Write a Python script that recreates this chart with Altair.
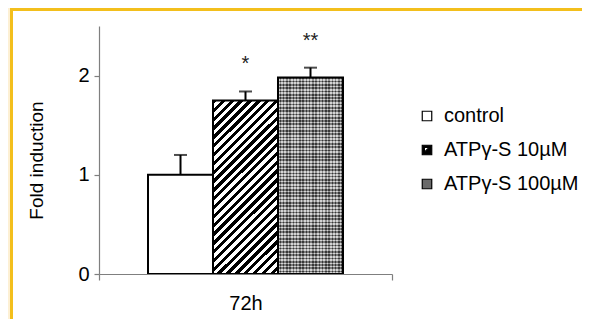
import altair as alt
import pandas as pd

# ---- data ----
treatments = ["control", "ATPγ-S 10µM", "ATPγ-S 100µM"]
fold = [1.0, 1.75, 1.98]
err = [0.20, 0.09, 0.10]
signif = ["", "*", "**"]
time_label = ["72h", "72h", "72h"]
y_ticks = [0, 1, 2]

df = pd.DataFrame({
    "time": time_label,
    "treatment": treatments,
    "fold": fold,
    "err": err,
    "sig": signif,
})

FONT = "Liberation Sans"
AXIS_GRAY = "#7f7f7f"


def stripes(n, c1, c2, frac=0.5):
    stops = []
    for i in range(n):
        a = i / n
        b = (i + frac) / n
        c = (i + 1) / n
        stops += [
            {"offset": a, "color": c1},
            {"offset": b, "color": c1},
            {"offset": b, "color": c2},
            {"offset": c, "color": c2},
        ]
    return stops


# diagonal hatch (///) for the 10 µM bar
hatch_fill = {"gradient": "linear", "x1": 0, "y1": 0, "x2": 0.45, "y2": 1.205,
              "stops": stripes(27, "black", "white")}
# fine dotted texture for the 100 µM bar
dot_fill_v = {"gradient": "linear", "x1": 0, "y1": 0, "x2": 1, "y2": 0,
              "stops": stripes(20, "#bdbdbd", "#555555")}
dot_fill_h = {"gradient": "linear", "x1": 0, "y1": 0, "x2": 0, "y2": 1,
              "stops": stripes(60, "black", "white")}

x_enc = alt.X(
    "time:N", title=None,
    scale=alt.Scale(paddingInner=0, paddingOuter=0),
    axis=alt.Axis(labelAngle=0, labelFont=FONT, labelFontSize=20, labelColor="black",
                  labelPadding=13, tickSize=6, tickColor=AXIS_GRAY, tickWidth=1.2,
                  domainColor=AXIS_GRAY, domainWidth=1.2, tickBand="extent", zindex=1),
)
xoff_enc = alt.XOffset("treatment:N",
                       scale=alt.Scale(domain=treatments, paddingOuter=0.754, paddingInner=0))
y_enc = alt.Y(
    "fold:Q",
    scale=alt.Scale(domain=[0, 2.5], nice=False),
    axis=alt.Axis(values=y_ticks, format="d", grid=False, labelFont=FONT, labelFontSize=20,
                  labelColor="black", labelPadding=5, tickSize=5, tickColor=AXIS_GRAY,
                  tickWidth=1.2, domainColor=AXIS_GRAY, domainWidth=1.2,
                  title="Fold induction", titleFont=FONT, titleFontSize=19,
                  titleFontWeight="normal", titleColor="black", titleX=-63, titleY=134,
                  titleAngle=270, titleAlign="center", titleBaseline="middle", zindex=1),
)

base = alt.Chart(df).encode(x=x_enc, xOffset=xoff_enc)

frame = alt.Chart(alt.Data(values=[{}])).mark_rect(
    fill="white", stroke="#F3BF1C", strokeWidth=3
).encode(x=alt.value(-87.5), x2=alt.value(520), y=alt.value(-16.5), y2=alt.value(330))

bar_ctrl = base.mark_bar(fill="white", stroke="black", strokeWidth=2).encode(
    y=y_enc).transform_filter(alt.datum.treatment == treatments[0])
bar_10 = base.mark_bar(fill=hatch_fill, stroke="black", strokeWidth=2).encode(
    y=y_enc).transform_filter(alt.datum.treatment == treatments[1])
bar_100a = base.mark_bar(fill=dot_fill_v, strokeWidth=0).encode(
    y=y_enc).transform_filter(alt.datum.treatment == treatments[2])
bar_100b = base.mark_bar(fill=dot_fill_h, fillOpacity=0.35, stroke="black", strokeWidth=2).encode(
    y=y_enc).transform_filter(alt.datum.treatment == treatments[2])

errs = base.transform_calculate(top="datum.fold + datum.err")
err_rule = errs.mark_rule(color="black", strokeWidth=2).encode(y=y_enc, y2="top:Q")
err_cap = errs.mark_tick(color="black", thickness=2, size=13).encode(y="top:Q")
stars = errs.mark_text(dy=-21, baseline="alphabetic", font=FONT, fontSize=20,
                       color="#222222").encode(y="top:Q", text="sig:N")

shape_paths = ["square",
               "M-1,-1L1,-1L1,1L-1,1Z M-0.55,-0.55L-0.55,0.45L0.45,-0.55Z",
               "square"]
leg = alt.Legend(title=None, orient="none", legendX=318, legendY=80, symbolSize=90,
                 symbolStrokeWidth=1.2, labelFont=FONT,
                 labelFontSize=20, labelColor="black", labelOffset=7, rowPadding=14,
                 zindex=1)
legend_layer = alt.Chart(df).mark_point(
    filled=True, clip=True, strokeWidth=1.2, opacity=1
).encode(
    x=alt.value(0), y=alt.value(-2000),
    fill=alt.Fill("treatment:N", scale=alt.Scale(domain=treatments,
                                                 range=["white", "black", "#6a6a6a"]), legend=leg),
    shape=alt.Shape("treatment:N", scale=alt.Scale(domain=treatments, range=shape_paths),
                    legend=leg),
    stroke=alt.Stroke("treatment:N", scale=alt.Scale(domain=treatments,
                                                     range=["black", "black", "black"]), legend=leg),
)

chart = alt.layer(
    frame, bar_ctrl, bar_10, bar_100a, bar_100b, err_rule, err_cap, stars, legend_layer
).properties(
    width=293, height=248, background="#FDF0D4",
    padding={"left": 91, "top": 18, "right": 190, "bottom": 45},
    autosize=alt.AutoSizeParams(type="none"),
).configure_view(stroke=None)

chart.save("out.html", embed_options={"renderer": "svg", "actions": False})
